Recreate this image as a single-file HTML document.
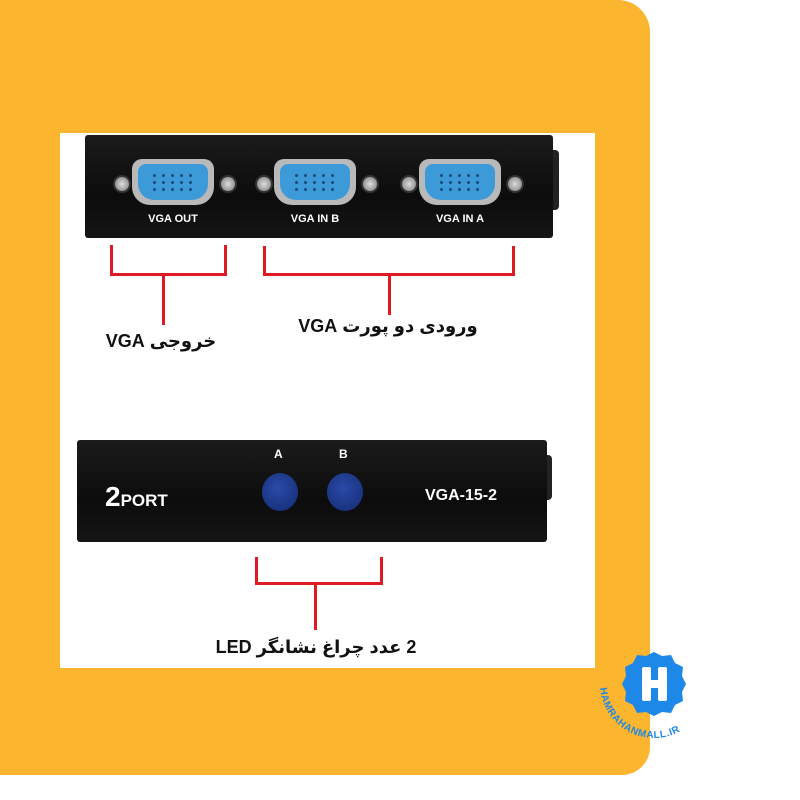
<!DOCTYPE html>
<html><head><meta charset="utf-8"><style>
body{margin:0;width:800px;height:800px;background:#fff;position:relative;overflow:hidden;font-family:"Liberation Sans",sans-serif}
.a{position:absolute}
.org{left:0;top:0;width:650px;height:775px;background:#fbb52f;border-radius:0 32px 28px 0}
.wh{left:60px;top:133px;width:535px;height:535px;background:#fff}
.box{background:linear-gradient(#1b1b1b,#0c0c0c 60%,#151515);border-radius:3px}
.r{background:#e01a22}
.conn{width:82px;height:46px;background:#b9b9b9;border-radius:10px 10px 18px 18px}
.conn i{position:absolute;left:6px;top:5px;right:6px;bottom:5px;background:#3d9ad8;border-radius:8px 8px 16px 16px}
.conn b{position:absolute;left:18px;right:18px;top:13px;height:20px;background:radial-gradient(circle,#1c4d7a 1.3px,transparent 1.8px) 0 0/9px 7px}
.scr{width:14px;height:14px;border-radius:50%;background:radial-gradient(#ddd,#777);border:2px solid #333}
.lbl{color:#fff;font-weight:bold;font-size:11px;text-align:center;width:100px}
.fa{font-family:"Liberation Sans","DejaVu Sans",sans-serif;font-weight:bold;font-size:18px;color:#111;text-align:center;width:300px;direction:rtl}
.btn{width:36px;height:38px;border-radius:50%;background:radial-gradient(circle at 45% 40%,#2a4aa8,#142a70)}
</style></head><body>
<div class="a org"></div>
<div class="a wh"></div>
<div class="a box" style="left:85px;top:135px;width:468px;height:103px"></div>
<div class="a" style="left:553px;top:150px;width:6px;height:60px;background:#222;border-radius:0 4px 4px 0"></div>

<div class="a scr" style="left:113px;top:175px"></div><div class="a conn" style="left:132px;top:159px"><i></i><b></b></div><div class="a scr" style="left:219px;top:175px"></div>
<div class="a scr" style="left:255px;top:175px"></div><div class="a conn" style="left:274px;top:159px"><i></i><b></b></div><div class="a scr" style="left:361px;top:175px"></div>
<div class="a scr" style="left:400px;top:175px"></div><div class="a conn" style="left:419px;top:159px"><i></i><b></b></div><div class="a scr" style="left:506px;top:175px"></div>
<div class="a lbl" style="left:123px;top:213px">VGA OUT</div>
<div class="a lbl" style="left:265px;top:213px">VGA IN B</div>
<div class="a lbl" style="left:410px;top:213px">VGA IN A</div>

<div class="a r" style="left:110px;top:245px;width:3px;height:31px"></div>
<div class="a r" style="left:224px;top:245px;width:3px;height:31px"></div>
<div class="a r" style="left:110px;top:273px;width:117px;height:3px"></div>
<div class="a r" style="left:162px;top:273px;width:3px;height:52px"></div>
<div class="a r" style="left:263px;top:246px;width:3px;height:30px"></div>
<div class="a r" style="left:512px;top:246px;width:3px;height:30px"></div>
<div class="a r" style="left:263px;top:273px;width:252px;height:3px"></div>
<div class="a r" style="left:388px;top:273px;width:3px;height:42px"></div>
<div class="a fa" style="left:11px;top:331px">خروجی VGA</div>
<div class="a fa" style="left:238px;top:316px">ورودی دو پورت VGA</div>

<div class="a box" style="left:77px;top:440px;width:470px;height:102px"></div>
<div class="a" style="left:547px;top:455px;width:5px;height:45px;background:#222;border-radius:0 4px 4px 0"></div>
<div class="a" style="left:105px;top:481px;color:#fff;font-weight:bold;font-size:28px">2<span style="font-size:17px">PORT</span></div>
<div class="a" style="left:425px;top:487px;color:#fff;font-weight:bold;font-size:16px">VGA-15-2</div>
<div class="a" style="left:274px;top:447px;color:#fff;font-weight:bold;font-size:12px">A</div>
<div class="a" style="left:339px;top:447px;color:#fff;font-weight:bold;font-size:12px">B</div>
<div class="a btn" style="left:262px;top:473px"></div>
<div class="a btn" style="left:327px;top:473px"></div>

<div class="a r" style="left:255px;top:557px;width:3px;height:28px"></div>
<div class="a r" style="left:380px;top:557px;width:3px;height:28px"></div>
<div class="a r" style="left:255px;top:582px;width:128px;height:3px"></div>
<div class="a r" style="left:314px;top:582px;width:3px;height:48px"></div>
<div class="a fa" style="left:166px;top:637px">2 عدد چراغ نشانگر LED</div>

<svg class="a" style="left:590px;top:630px" width="130" height="130" viewBox="0 0 130 130">
<polygon fill="#1e88e8" points="64,22 72,26 81,25 85,33 93,37 92,46 96,54 92,62 93,71 85,75 81,83 72,82 64,86 56,82 47,83 43,75 35,71 36,62 32,54 36,46 35,37 43,33 47,25 56,26"/>
<rect x="52" y="37" width="9" height="34" rx="2" fill="#fff"/><rect x="68" y="37" width="9" height="34" rx="2" fill="#fff"/><rect x="52" y="50" width="25" height="8" fill="#fff"/>
<defs><path id="arc" d="M10,54 A54,54 0 0 0 118,54"/></defs>
<text font-size="10" font-weight="bold" fill="#1e88e8" letter-spacing="0.6" font-family="Liberation Sans,sans-serif"><textPath href="#arc" startOffset="4">HAMRAHANMALL.IR</textPath></text>
</svg>
</body></html>
